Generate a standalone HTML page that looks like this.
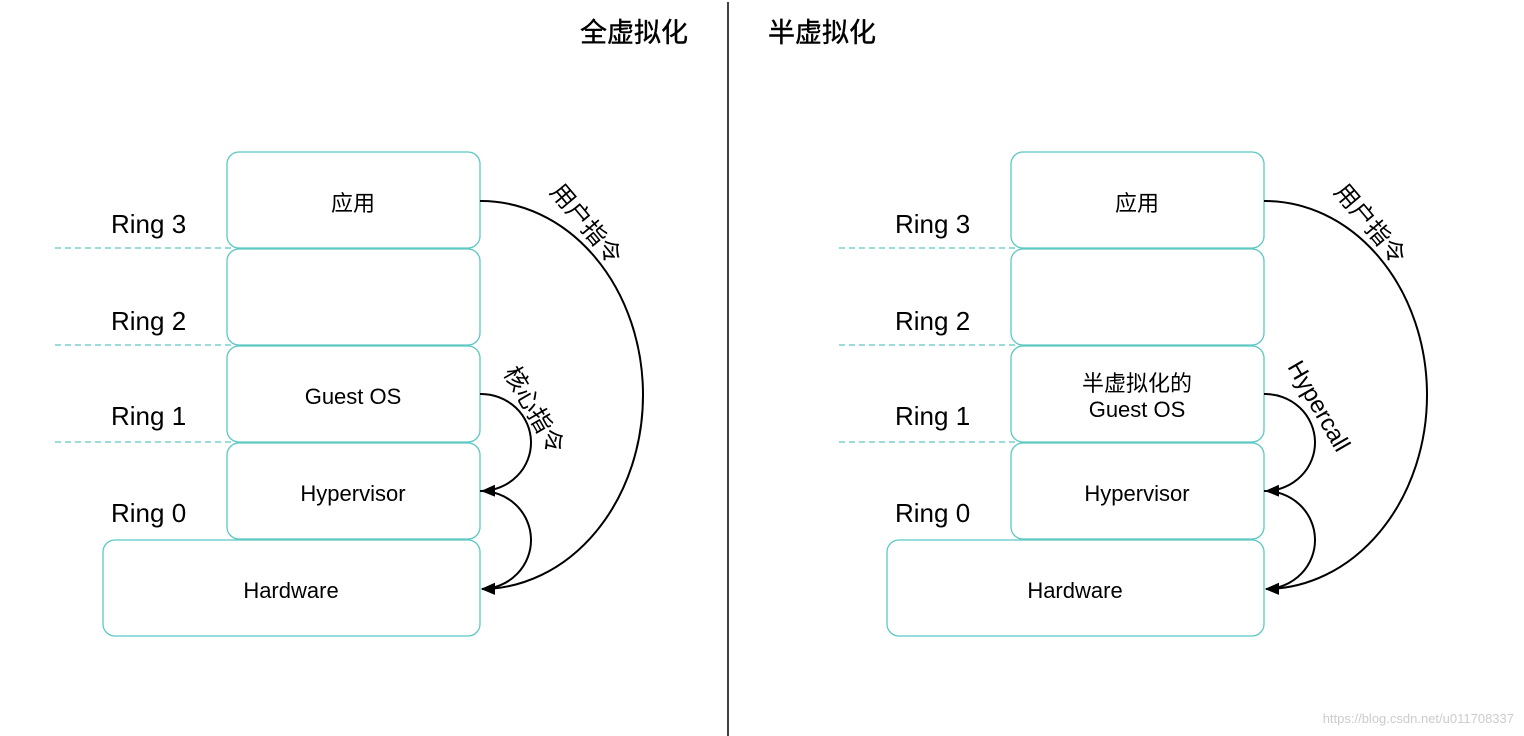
<!DOCTYPE html>
<html><head><meta charset="utf-8"><style>
html,body{margin:0;padding:0;background:#fff;width:1524px;height:736px;overflow:hidden}
text{font-family:"Liberation Sans","Noto Sans CJK SC",sans-serif;fill:#000}
</style></head><body>
<svg width="1524" height="736" viewBox="0 0 1524 736" xmlns="http://www.w3.org/2000/svg">
<defs>
<marker id="ah" markerWidth="14" markerHeight="12" refX="13" refY="6" orient="auto" markerUnits="userSpaceOnUse">
<path d="M0,0 L14,6 L0,12 z" fill="#000"/>
</marker>
<g id="panel">
<g fill="#fff" stroke="#5cc8c4" stroke-width="1.3">
<rect x="227" y="152" width="253" height="96" rx="12"/>
<rect x="227" y="249" width="253" height="96" rx="12"/>
<rect x="227" y="346" width="253" height="96" rx="12"/>
<rect x="227" y="443" width="253" height="96" rx="12"/>
<rect x="103" y="540" width="377" height="96" rx="12"/>
</g>
<g stroke="#5cc8c4" stroke-width="1.2" stroke-dasharray="6,4">
<line x1="55" y1="248" x2="232" y2="248"/>
<line x1="55" y1="345" x2="232" y2="345"/>
<line x1="55" y1="442" x2="232" y2="442"/>
</g>
<g font-size="26">
<text x="111" y="233">Ring 3</text>
<text x="111" y="330">Ring 2</text>
<text x="111" y="425">Ring 1</text>
<text x="111" y="522">Ring 0</text>
</g>
<g font-size="22" text-anchor="middle">
<text x="353" y="211">应用</text>
<text x="353" y="501">Hypervisor</text>
<text x="291" y="598">Hardware</text>
</g>
<g fill="none" stroke="#000" stroke-width="2">
<path d="M480,201 A162,194 0 0 1 482,589" marker-end="url(#ah)"/>
<path d="M480,394 A50,48.5 0 0 1 482,491" marker-end="url(#ah)"/>
<path d="M480,491 A50,49 0 0 1 482,589" marker-end="url(#ah)"/>
</g>
<text font-size="24" text-anchor="middle" transform="translate(580,229) rotate(50)">用户指令</text>
</g>
</defs>
<line x1="728" y1="2" x2="728" y2="736" stroke="#000" stroke-width="1.5"/>
<text x="580" y="42" font-size="27" stroke="#000" stroke-width="0.4">全虚拟化</text>
<text x="768" y="42" font-size="27" stroke="#000" stroke-width="0.4">半虚拟化</text>
<use href="#panel"/>
<text x="353" y="404" font-size="22" text-anchor="middle">Guest OS</text>
<text font-size="24" text-anchor="middle" transform="translate(527,414) rotate(60)">核心指令</text>
<use href="#panel" transform="translate(784,0)"/>
<text x="1137" y="391" font-size="22" text-anchor="middle">半虚拟化的</text>
<text x="1137" y="417" font-size="22" text-anchor="middle">Guest OS</text>
<text font-size="24" text-anchor="middle" transform="translate(1312,410) rotate(60)">Hypercall</text>
<text x="1514" y="723" font-size="13" text-anchor="end" style="fill:#ccc">https://blog.csdn.net/u011708337</text>
</svg>
</body></html>
